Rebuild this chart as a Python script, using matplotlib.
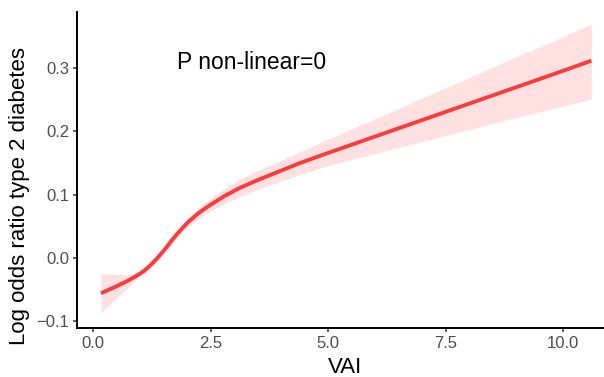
import matplotlib
matplotlib.use("Agg")
import matplotlib.pyplot as plt

# spline estimate
vai = [0.17, 0.47, 0.75, 0.96, 1.08, 1.18, 1.29, 1.39, 1.5, 1.6, 1.7, 1.81, 1.92,
       2.03, 2.14, 2.24, 2.37, 2.5, 2.8, 3.13, 3.5, 3.9, 4.4, 5.0, 6.0, 7.0, 8.0,
       9.0, 10.0, 10.6]
log_or = [-0.056, -0.046, -0.036, -0.027, -0.021, -0.0145, -0.0065, 0.0015, 0.011,
          0.0205, 0.030, 0.0395, 0.0485, 0.057, 0.064, 0.0705, 0.0775, 0.084, 0.098,
          0.111, 0.123, 0.135, 0.150, 0.166, 0.192, 0.218, 0.244, 0.270, 0.296, 0.312]
ci_low = [-0.087, -0.066, -0.046, -0.032, -0.026, -0.0195, -0.0115, -0.004, 0.005,
          0.014, 0.023, 0.033, 0.042, 0.050, 0.056, 0.062, 0.068, 0.074, 0.086,
          0.097, 0.108, 0.119, 0.132, 0.146, 0.165, 0.184, 0.203, 0.222, 0.240, 0.251]
ci_high = [-0.025, -0.026, -0.027, -0.022, -0.016, -0.0095, -0.0015, 0.007, 0.017,
           0.027, 0.037, 0.046, 0.055, 0.064, 0.072, 0.079, 0.087, 0.094, 0.110,
           0.125, 0.138, 0.151, 0.168, 0.188, 0.220, 0.253, 0.285, 0.318, 0.350, 0.370]

x_ticks = [0.0, 2.5, 5.0, 7.5, 10.0]
y_ticks = [-0.1, 0.0, 0.1, 0.2, 0.3]

plt.rcParams["font.family"] = ["Liberation Sans", "DejaVu Sans"]

fig = plt.figure(figsize=(6.04, 3.77), dpi=100, facecolor="white")
ax = fig.add_axes([0.1275, 0.130, 0.8725, 0.838])

ax.fill_between(vai, ci_low, ci_high, color="#FFE1E2", lw=0)
ax.plot(vai, log_or, color="#F93D3D", lw=2.8, solid_capstyle="butt",
        solid_joinstyle="round")

ax.text(3.38, 0.309, "P non-linear=0", fontsize=16.5, ha="center", va="center",
        color="black")

ax.set_xlim(-0.34, 10.87)
ax.set_ylim(-0.111, 0.389)
ax.set_xticks(x_ticks)
ax.set_xticklabels([f"{v:.1f}" for v in x_ticks])
ax.set_yticks(y_ticks)
ax.set_yticklabels([f"{v:.1f}".replace("-", "\u2212") for v in y_ticks])

for side in ["top", "right"]:
    ax.spines[side].set_visible(False)
for side in ["left", "bottom"]:
    ax.spines[side].set_linewidth(1.4)
    ax.spines[side].set_color("black")
ax.tick_params(axis="both", length=3, width=1.1, color="#333333",
               labelsize=12, labelcolor="#4D4D4D", pad=2.5)

ax.set_xlabel("VAI", fontsize=16)
ax.set_ylabel("Log odds ratio type 2 diabetes", fontsize=16)
ax.xaxis.set_label_coords(0.508, -0.092)
ax.yaxis.set_label_coords(-0.090, 0.418)

fig.savefig("out.png", dpi=100, facecolor="white")
